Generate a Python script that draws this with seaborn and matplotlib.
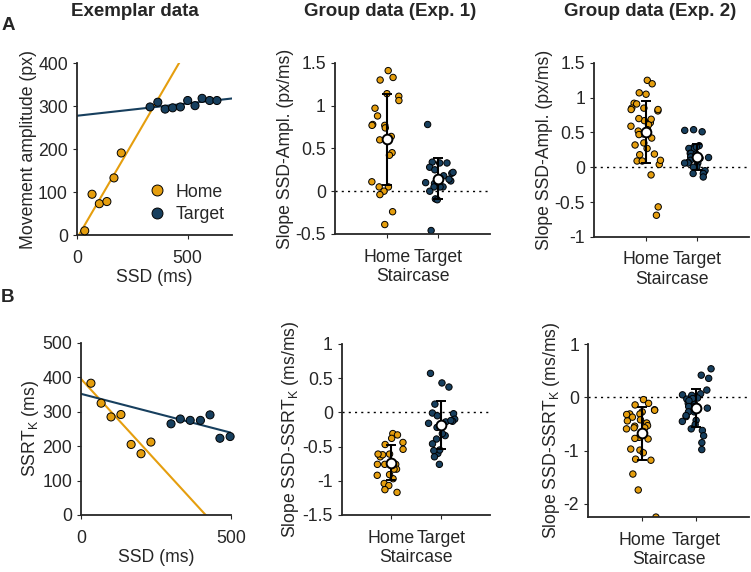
import numpy as np
import pandas as pd
import matplotlib
matplotlib.use('Agg')
import matplotlib.pyplot as plt
import seaborn as sns
from matplotlib.ticker import FormatStrFormatter

# colours
orange = '#E59E0E'
navy = '#173F5E'

# Exemplar data (A): SSD (ms) vs movement amplitude (px)
home_ssd_a = [35, 68, 101, 135, 167, 200]
home_amp_a = [10, 95, 73, 78, 133, 191]
target_ssd_a = [330, 365, 398, 432, 467, 500, 533, 565, 599, 632]
target_amp_a = [298, 309, 293, 296, 298, 313, 301, 318, 313, 313]

# Exemplar data (B): SSD (ms) vs SSRT_K (ms)
home_ssd_b = [33, 67, 100, 133, 167, 200, 233]
home_ssrt_b = [383, 325, 285, 292, 205, 178, 212]
target_ssd_b = [300, 331, 364, 398, 430, 463, 497]
target_ssrt_b = [265, 279, 275, 275, 291, 223, 228]

# Group slopes SSD-amplitude (px/ms)
exp1_home_amp = [1.41, 1.33, 1.30, 1.14, 1.11, 1.06, 0.97, 0.88, 0.78, 0.77, 0.77, 0.74,
                 0.64, 0.60, 0.45, 0.42, 0.11, 0.05, 0.05, 0.00, -0.04, -0.24, -0.39]
exp1_target_amp = [0.78, 0.33, 0.33, 0.34, 0.28, 0.25, 0.21, 0.22, 0.18, 0.12, 0.14, 0.09,
                   0.10, 0.05, 0.05, 0.05, 0.00, -0.09, -0.10, -0.46]
exp2_home_amp = [1.25, 1.20, 1.07, 1.05, 0.81, 0.83, 0.92, 0.91, 0.85, 0.85, 0.83, 0.67,
                 0.64, 0.70, 0.69, 0.61, 0.59, 0.54, 0.52, 0.48, 0.47, 0.42, 0.35, 0.32,
                 0.27, 0.19, 0.18, 0.09, 0.09, 0.04, 0.10, -0.11, -0.57, -0.69]
exp2_target_amp = [0.54, 0.53, 0.51, 0.31, 0.28, 0.27, 0.27, 0.29, 0.20, 0.20, 0.19, 0.14,
                   0.13, 0.15, 0.10, 0.14, 0.07, 0.06, 0.06, 0.06, 0.01, -0.09, -0.07, -0.05,
                   -0.09, -0.14, 0.00]

# Group slopes SSD-SSRT_K (ms/ms)
exp1_home_ssrt = [-0.31, -0.33, -0.47, -0.38, -0.44, -0.54, -0.65, -0.62, -0.61, -0.61, -0.76,
                  -0.76, -0.76, -0.76, -0.83, -0.83, -0.92, -0.97, -1.04, -1.07, -1.13, -1.17, -0.91]
exp1_target_ssrt = [0.57, 0.43, 0.37, 0.12, -0.01, -0.05, -0.02, -0.10, -0.14, -0.13, -0.12,
                    -0.22, -0.16, -0.34, -0.31, -0.39, -0.46, -0.60, -0.55, -0.56, -0.65, -0.76]
exp2_home_ssrt = [-0.04, -0.11, -0.14, -0.27, -0.23, -0.24, -0.31, -0.37, -0.44, -0.31, -0.32,
                  -0.42, -0.48, -0.54, -0.53, -0.57, -0.59, -0.68, -0.57, -0.75, -0.77, -0.78,
                  -0.99, -0.97, -1.04, -1.18, -1.16, -1.44, -1.74, -2.25]
exp2_target_ssrt = [0.54, 0.42, 0.36, 0.14, 0.04, 0.05, 0.07, -0.01, -0.06, -0.03, -0.02, -0.13,
                    -0.11, -0.06, -0.17, -0.20, -0.21, -0.17, -0.27, -0.27, -0.36, -0.34, -0.43,
                    -0.45, -0.51, -0.59, -0.62, -0.72, -0.85, -0.98]

staircases = ['Home', 'Target']

sns.set_style('ticks')
plt.rcParams['font.family'] = ['Liberation Sans', 'DejaVu Sans']
plt.rcParams['mathtext.fontset'] = 'custom'
plt.rcParams['mathtext.rm'] = 'Liberation Sans'
plt.rcParams['mathtext.it'] = 'Liberation Sans'
plt.rcParams['axes.unicode_minus'] = False
plt.rcParams['font.size'] = 12.7
plt.rcParams['axes.edgecolor'] = '#262626'
plt.rcParams['axes.linewidth'] = 1.3
plt.rcParams['xtick.color'] = '#262626'
plt.rcParams['ytick.color'] = '#262626'
plt.rcParams['xtick.major.size'] = 3
plt.rcParams['ytick.major.size'] = 3
plt.rcParams['xtick.major.pad'] = 7.5
plt.rcParams['axes.labelpad'] = 2

fig = plt.figure(figsize=(7.51, 5.72), dpi=100)

ax_a1 = fig.add_axes([0.1025, 0.589, 0.2064, 0.3007])
ax_a2 = fig.add_axes([0.446, 0.591, 0.2064, 0.299])
ax_a3 = fig.add_axes([0.791, 0.586, 0.2064, 0.304])
ax_b1 = fig.add_axes([0.1079, 0.0997, 0.1997, 0.3007])
ax_b2 = fig.add_axes([0.4554, 0.0997, 0.197, 0.299])
ax_b3 = fig.add_axes([0.783, 0.096, 0.215, 0.302])


def exemplar(ax, hx, hy, tx, ty, xmax, ymax, ylabel, legend):
    df = pd.DataFrame({'ssd': hx + tx, 'val': hy + ty,
                       'Staircase': ['Home'] * len(hx) + ['Target'] * len(tx)})
    xs = np.array([0, xmax])
    for x, y, c in [(hx, hy, orange), (tx, ty, navy)]:
        k, b = np.polyfit(x, y, 1)
        ax.plot(xs, k * xs + b, color=c, lw=1.5, zorder=1)
    sns.scatterplot(data=df, x='ssd', y='val', hue='Staircase', palette=[orange, navy],
                    s=34, edgecolor='black', linewidth=0.7, ax=ax, zorder=3,
                    legend=legend, clip_on=False)
    ax.set_xlim(0, xmax)
    ax.set_ylim(0, ymax)
    ax.set_xticks([0, 500])
    ax.set_yticks(np.arange(0, ymax + 1, 100))
    ax.set_xlabel('SSD (ms)')
    ax.set_ylabel(ylabel, labelpad=0.5)
    if legend:
        ax.legend(loc='lower right', bbox_to_anchor=(1.0, 0.03), frameon=False, title=None,
                  handletextpad=0.1, borderaxespad=0.0, labelspacing=0.3, markerscale=1.35)
    sns.despine(ax=ax)


def group(ax, home, target, ylim, yticks, ylabel):
    df = pd.DataFrame({'Staircase': ['Home'] * len(home) + ['Target'] * len(target),
                       'slope': home + target})
    ax.axhline(0, color='black', ls=(0, (1.5, 3)), lw=1, zorder=0)
    np.random.seed(3)
    sns.stripplot(data=df, x='Staircase', y='slope', hue='Staircase', order=staircases,
                  palette=[orange, navy], jitter=0.3, size=4.6, linewidth=0.7,
                  edgecolor='black', legend=False, ax=ax, zorder=2)
    means = [np.mean(home), np.mean(target)]
    sds = [np.std(home, ddof=1), np.std(target, ddof=1)]
    ax.errorbar([0, 1], means, yerr=sds, fmt='o', color='black', mfc='white', mec='black',
                ms=7, mew=1.4, elinewidth=1.5, capsize=3.5, capthick=1.5, zorder=5)
    ax.set_xlim(-1, 2)
    ax.set_ylim(*ylim)
    ax.set_yticks(yticks)
    ax.yaxis.set_major_formatter(FormatStrFormatter('%g'))
    ax.set_xlabel('Staircase')
    ax.set_ylabel(ylabel, labelpad=1)
    sns.despine(ax=ax)


exemplar(ax_a1, home_ssd_a, home_amp_a, target_ssd_a, target_amp_a, 700, 400,
         'Movement amplitude (px)', True)
exemplar(ax_b1, home_ssd_b, home_ssrt_b, target_ssd_b, target_ssrt_b, 500, 500,
         r'SSRT$_\mathrm{K}$ (ms)', False)

group(ax_a2, exp1_home_amp, exp1_target_amp, (-0.5, 1.5), [-0.5, 0, 0.5, 1, 1.5],
      'Slope SSD-Ampl. (px/ms)')
group(ax_a3, exp2_home_amp, exp2_target_amp, (-1, 1.5), [-1, -0.5, 0, 0.5, 1, 1.5],
      'Slope SSD-Ampl. (px/ms)')
group(ax_b2, exp1_home_ssrt, exp1_target_ssrt, (-1.5, 1), [-1.5, -1, -0.5, 0, 0.5, 1],
      r'Slope SSD-SSRT$_\mathrm{K}$ (ms/ms)')
group(ax_b3, exp2_home_ssrt, exp2_target_ssrt, (-2.25, 1), [-2, -1, 0, 1],
      r'Slope SSD-SSRT$_\mathrm{K}$ (ms/ms)')

for x, t in [(135, 'Exemplar data'), (390, 'Group data (Exp. 1)'), (650, 'Group data (Exp. 2)')]:
    fig.text(x / 751, 1 - 12 / 572, t, ha='center', va='center', weight='bold', fontsize=13.5)
fig.text(8 / 751, 1 - 26 / 572, 'A', ha='center', va='center', weight='bold', fontsize=13.5)
fig.text(8 / 751, 1 - 298 / 572, 'B', ha='center', va='center', weight='bold', fontsize=13.5)

fig.savefig('out.png', dpi=100)
